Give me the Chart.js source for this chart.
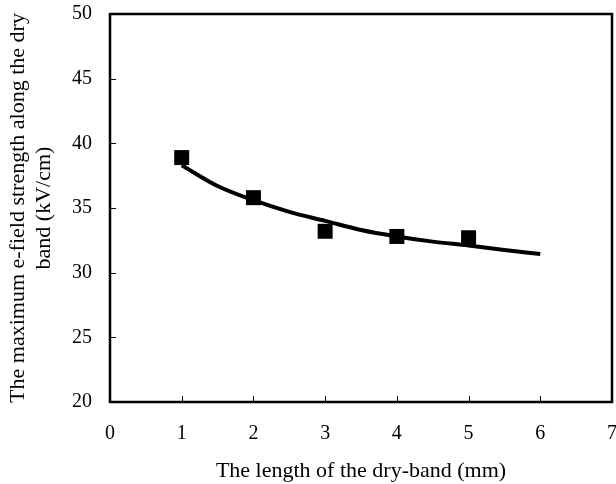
<!DOCTYPE html>
<html>
<head>
<meta charset="utf-8">
<script src="https://cdn.jsdelivr.net/npm/chart.js@4/dist/chart.umd.min.js"></script>
<style>
  body { margin: 0; background: #fff; }
  #mycanvas { display: block; }
</style>
</head>
<body>
<canvas id="mycanvas" width="616" height="484"></canvas>
<script>
// measured points (squares)
var dryBandLength = [1, 2, 3, 4, 5];
var maxField = [38.9, 35.8, 33.2, 32.8, 32.7];

// fitted trend curve
var fitX = [1, 1.5, 2, 2.5, 3, 3.5, 4, 4.5, 5, 5.5, 6];
var fitY = [38.3, 36.7, 35.6, 34.7, 34.0, 33.3, 32.8, 32.4, 32.1, 31.75, 31.45];

var xTicks = [0, 1, 2, 3, 4, 5, 6, 7];
var yTicks = [20, 25, 30, 35, 40, 45, 50];

var serif = "'Liberation Serif', 'Times New Roman', serif";

function toPoints(xs, ys) {
  var pts = [];
  for (var i in xs) {
    pts.push({ x: xs[i], y: ys[i] });
  }
  return pts;
}

// frame + inward tick marks
var framePlugin = {
  id: 'frame',
  afterDraw: function(chart) {
    var ctx = chart.ctx;
    var a = chart.chartArea;
    var xs = chart.scales.x, ys = chart.scales.y;
    ctx.save();
    ctx.strokeStyle = '#000';
    ctx.lineWidth = 1;
    xTicks.forEach(function(v) {
      var px = Math.round(xs.getPixelForValue(v)) + 0.5;
      ctx.beginPath();
      ctx.moveTo(px, a.bottom);
      ctx.lineTo(px, a.bottom - 6);
      ctx.stroke();
    });
    yTicks.forEach(function(v) {
      var py = Math.round(ys.getPixelForValue(v)) + 0.5;
      ctx.beginPath();
      ctx.moveTo(a.left, py);
      ctx.lineTo(a.left + 6, py);
      ctx.stroke();
    });
    ctx.lineWidth = 2.5;
    ctx.strokeRect(a.left, a.top, a.right - a.left, a.bottom - a.top);
    ctx.restore();
  }
};

var ctx = document.getElementById('mycanvas');
var chart = new Chart(ctx, {
  type: 'scatter',
  data: {
    datasets: [
      {
        label: 'Measured',
        data: toPoints(dryBandLength, maxField),
        pointStyle: 'rect',
        pointRadius: 10.6,
        pointBorderWidth: 0,
        backgroundColor: '#000',
        borderColor: '#000',
        showLine: false
      },
      {
        label: 'Fit',
        data: toPoints(fitX, fitY),
        showLine: true,
        borderColor: '#000',
        borderWidth: 4,
        pointRadius: 0,
        cubicInterpolationMode: 'monotone',
        fill: false
      }
    ]
  },
  options: {
    responsive: false,
    animation: false,
    layout: { autoPadding: false, padding: { top: 14, right: 4, left: 0, bottom: 0 } },
    plugins: { legend: { display: false }, tooltip: { enabled: false } },
    scales: {
      x: {
        type: 'linear',
        min: 0, max: 7,
        afterFit: function(s) { s.height = 82; s.paddingLeft = 0; s.paddingRight = 0; },
        afterBuildTicks: function(s) { s.ticks = xTicks.map(function(v) { return { value: v }; }); },
        grid: { display: false, drawTicks: false },
        border: { display: false },
        ticks: { color: '#000', padding: 20, font: { family: serif, size: 20 } },
        title: {
          display: true,
          text: 'The length of the dry-band (mm)',
          color: '#000',
          padding: { top: 0, bottom: 0 },
          font: { family: serif, size: 22 }
        }
      },
      y: {
        type: 'linear',
        min: 20, max: 50,
        afterFit: function(s) { s.width = 110; s.paddingTop = 0; s.paddingBottom = 0; },
        afterBuildTicks: function(s) { s.ticks = yTicks.map(function(v) { return { value: v }; }); },
        grid: { display: false, drawTicks: false },
        border: { display: false },
        ticks: { color: '#000', padding: 18, font: { family: serif, size: 20 } },
        title: {
          display: true,
          text: ['The maximum e-field strength along the dry', 'band (kV/cm)'],
          color: '#000',
          padding: { top: 5, bottom: 0 },
          font: { family: serif, size: 22 }
        }
      }
    }
  },
  plugins: [framePlugin]
});
</script>
</body>
</html>
